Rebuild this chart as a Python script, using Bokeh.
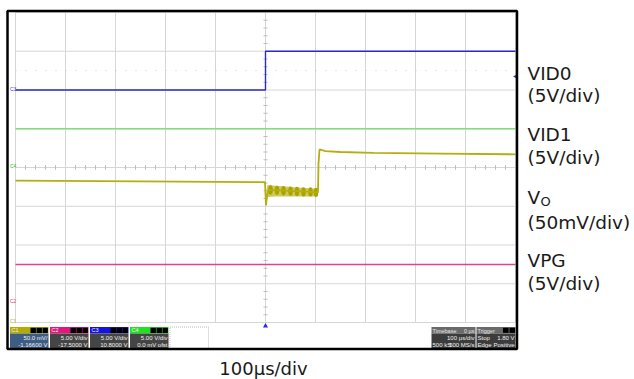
from bokeh.plotting import figure
from bokeh.models import Range1d
from bokeh.core.properties import value
from bokeh.embed import file_html
from bokeh.resources import INLINE
import math

# ---------------- data (time in µs, level in screen divisions from centre) ----------------
VID0_T = [-500, 0, 0, 500]
VID0_V = [2.0, 2.0, 3.0, 3.0]
VID1_T = [-500, 500]
VID1_V = [1.0, 1.0]
VPG_T = [-500, 500]
VPG_V = [-2.5, -2.5]
VO_T = [-500, -250, -1, 1, 3, 6, 30, 60, 90, 105, 106, 108, 120, 150, 216, 350, 500]
VO_V = [-0.34, -0.36, -0.38, -0.98, -0.72, -0.58, -0.59, -0.61, -0.63, -0.64, 0.10, 0.465, 0.42, 0.40, 0.38, 0.36, 0.34]
RIP_T = [2, 4, 20, 40, 60, 80, 105]
RIP_HI = [-0.60, -0.45, -0.47, -0.49, -0.51, -0.53, -0.55]
RIP_LO = [-0.98, -0.76, -0.75, -0.75, -0.75, -0.75, -0.75]
BEAD_T = [10, 23, 36, 50, 63, 76, 90, 101]
BEAD_V = [-0.58, -0.59, -0.60, -0.61, -0.62, -0.63, -0.63, -0.64]
TRIG_T = [0]
TRIG_LEVEL = [2.35]

LABELS = ["VID0", "VID1", "V", "VPG"]
SCALES = ["(5V/div)", "(5V/div)", "(50mV/div)", "(5V/div)"]
TIMEBASE = "100µs/div"

CH_NAMES = ["C1", "C2", "C3", "C4"]
CH_SCALE = ["50.0 mV/", "5.00 V/div", "5.00 V/div", "5.00 V/div"]
CH_OFFSET = ["-1.16600 V", "-17.5000 V", "10.8000 V", "0.0 mV ofst"]

# ---------------- layout helpers (reference pixel -> data) ----------------
def X(px):
    return (px - 265) * 2.0


def Y(py):
    return (167 - py) / 38.75


W, H = 634, 379
p = figure(width=W, height=H, x_range=Range1d(X(0), X(W)), y_range=Range1d(Y(H), Y(0)),
           output_backend="svg", toolbar_location=None, x_axis_location=None, y_axis_location=None,
           min_border=0)
p.grid.visible = False
p.outline_line_color = None
p.background_fill_color = "white"
p.border_fill_color = "white"

GRID = "#d6d6d6"
# grid
p.segment(x0=list(range(-500, 501, 100)), y0=[-4] * 11, x1=list(range(-500, 501, 100)), y1=[4] * 11,
          line_color=GRID, line_width=1)
p.segment(x0=[-500] * 9, y0=list(range(-4, 5)), x1=[500] * 9, y1=list(range(-4, 5)),
          line_color=GRID, line_width=1)
# dotted line
p.segment(x0=[-500], y0=[2.5], x1=[500], y1=[2.5], line_color="#c8c8c8", line_width=1, line_dash="1 9")
# minor ticks on centre axes
tx = [t for t in range(-500, 501, 20) if t % 100]
p.segment(x0=tx, y0=[-0.06] * len(tx), x1=tx, y1=[0.06] * len(tx), line_color="#bdbdbd", line_width=1)
ty = [k / 5 for k in range(-20, 21) if k % 5]
p.segment(x0=[-4] * len(ty), y0=ty, x1=[4] * len(ty), y1=ty, line_color="#bdbdbd", line_width=1)

# traces
p.line(VID1_T, VID1_V, line_color="#7fdc7f", line_width=1.5)
p.line(VPG_T, VPG_V, line_color="#e2408a", line_width=1.5)
p.line(VID0_T, VID0_V, line_color="#2a2ac4", line_width=1.4)
p.varea(x=RIP_T, y1=RIP_LO, y2=RIP_HI, fill_color="#cdc85a")
p.ellipse(x=BEAD_T, y=BEAD_V, width=9, height=0.24, fill_color="#a9a300", line_color=None)
p.line(VO_T, VO_V, line_color="#b4ae10", line_width=1.8)

# trigger markers
p.scatter(x=TRIG_T, y=[Y(325.5)], marker="triangle", size=5, fill_color="#2a2ae0", line_color=None)
p.scatter(x=[X(515.5)], y=TRIG_LEVEL, marker="triangle", angle=math.pi / 2, size=5,
          fill_color="#2a2ae0", line_color=None)

# channel markers in left margin
p.text(x=[X(9.5)] * 4, y=[Y(88), Y(165.5), Y(300), Y(320)], text=["C3", "C4", "C2", "C1"],
       text_color=["#4040d0", "#30c030", "#e0408a", "#b4ae10"], text_font=value("Liberation Sans"),
       text_font_size="5px", text_baseline="middle", text_align="left")

# ---------------- status bar ----------------
HT, HB, BB = 326.5, 333, 348
HEAD_COL = ["#b3ad00", "#e3177b", "#1414e0", "#22e022"]
BODY_COL = ["#3e5d84", "#454545", "#454545", "#454545"]
lefts = [9.5, 49.5, 89.5, 129.5]
for i in range(4):
    l, r = lefts[i], lefts[i] + 38.5
    p.quad(left=X(l), right=X(r), top=Y(HT), bottom=Y(HB), fill_color=HEAD_COL[i], line_color=None)
    p.quad(left=X(l), right=X(r), top=Y(HB), bottom=Y(BB), fill_color=BODY_COL[i], line_color=None)
    for k in range(3):
        bl = r - 18 + k * 6
        p.quad(left=X(bl), right=X(bl + 5.4), top=Y(HT + 0.8), bottom=Y(HB - 0.6), fill_color="black",
               line_color=None)
    p.text(x=[X(l + 1.5)], y=[Y((HT + HB) / 2)], text=[CH_NAMES[i]], text_color="#f0f0f0",
           text_font=value("Liberation Sans"), text_font_size="5.5px", text_baseline="middle")
    p.text(x=[X(r - 1), X(r - 1)], y=[Y(337), Y(344)], text=[CH_SCALE[i], CH_OFFSET[i]],
           text_color="#f2f2f2", text_font=value("Liberation Sans"), text_font_size="6px",
           text_baseline="middle", text_align="right")
# empty descriptor box
p.quad(left=X(169.5), right=X(208), top=Y(HT), bottom=Y(BB), fill_color="white", line_color="#bdbdbd",
       line_dash="1 1", line_width=1)
# timebase / trigger boxes
for l, r in [(431, 475), (476, 515)]:
    p.quad(left=X(l), right=X(r), top=Y(HT), bottom=Y(HB), fill_color="#6a6a6a", line_color=None)
    p.quad(left=X(l), right=X(r), top=Y(HB), bottom=Y(BB), fill_color="#3c3c3c", line_color=None)
for bl in [502.5, 509]:
    p.quad(left=X(bl), right=X(bl + 5.6), top=Y(HT + 0.8), bottom=Y(HB - 0.6), fill_color="black",
           line_color=None)
p.text(x=[X(432), X(474), X(477)], y=[Y(330)] * 3, text=["Timebase", "0 µs", "Trigger"],
       text_color="#e8e8e8", text_font=value("Liberation Sans"), text_font_size="5.5px",
       text_baseline="middle", text_align=["left", "right", "left"])
p.text(x=[X(474), X(432), X(474), X(477), X(514), X(477), X(514)],
       y=[Y(337), Y(344), Y(344), Y(337), Y(337), Y(344), Y(344)],
       text=["100 µs/div", "500 kS", "500 MS/s", "Stop", "1.80 V", "Edge", "Positive"],
       text_color="#f0f0f0", text_font=value("Liberation Sans"), text_font_size="6px",
       text_baseline="middle", text_align=["right", "left", "right", "left", "right", "left", "right"])

# outer frame
p.quad(left=X(7), right=X(516.5), top=Y(10.5), bottom=Y(348.5), fill_color=None, line_color="black",
       line_width=2.5)

# ---------------- labels ----------------
FONT = value("DejaVu Sans")
name_y = [73, 134, 197, 260]
scale_y = [95, 157, 222, 283]
p.text(x=[X(527)] * 4, y=[Y(v) for v in name_y], text=LABELS, text_font=FONT, text_font_size="18.5px",
       text_baseline="middle", text_color="#1a1a1a")
p.text(x=[X(540)], y=[Y(201)], text=["O"], text_font=FONT, text_font_size="13px",
       text_baseline="middle", text_color="#1a1a1a")
p.text(x=[X(527)] * 4, y=[Y(v) for v in scale_y], text=SCALES, text_font=FONT, text_font_size="18.5px",
       text_baseline="middle", text_color="#1a1a1a")
p.text(x=[X(263)], y=[Y(368)], text=[TIMEBASE], text_font=FONT, text_font_size="18px",
       text_baseline="middle", text_align="center", text_color="#1a1a1a")

open("out.html", "w").write(file_html(p, INLINE))
